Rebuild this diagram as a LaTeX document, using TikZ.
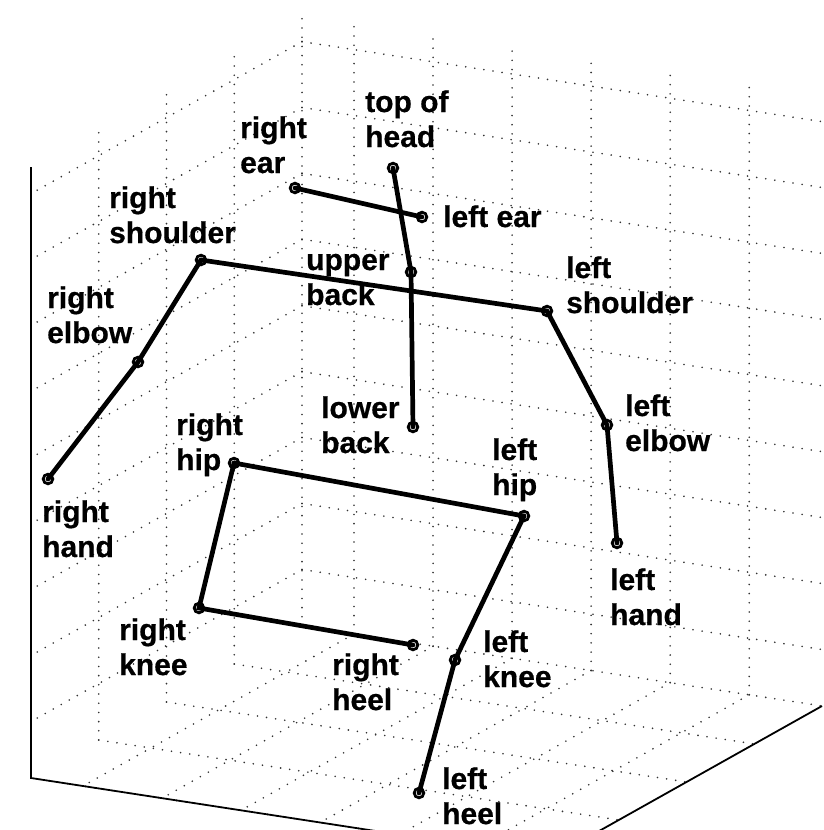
\documentclass[tikz,border=0pt]{standalone}
\usepackage{fontspec}
\setmainfont{Liberation Sans}[BoldFeatures={FakeBold=0.6}]
\newcommand\twol[2]{\vtop{\baselineskip=35pt\lineskiplimit=-100pt\hbox{#1}\hbox{#2}}}
\begin{document}
\begin{tikzpicture}[x=1pt,y=-1pt,
  gridline/.style={draw=black!80, line width=1.8pt, line cap=round, dash pattern=on 0pt off 9.2pt},
  axisline/.style={draw=black, line width=1.8pt},
  bone/.style={draw=black, line width=4.7pt, line cap=round},
  marker/.style={draw=black, line width=2.8pt},
  lbl/.style={anchor=base west, inner sep=0pt, font=\fontsize{30}{35}\selectfont\bfseries}]
\useasboundingbox (0,0) rectangle (823,830);
\fill[white] (0,0) rectangle (823,830);
% grid: v ticks (left wall verticals, floor lines along u)
\foreach \v in {0,0.25,0.5,0.75,1}{
  \draw[gridline] ({302-271*\v},{626+152*\v}) -- ({302-271*\v},{16+152*\v});
  \draw[gridline] ({302-271*\v},{626+152*\v}) -- ({822-271*\v},{706+152*\v});
}
% u ticks (right wall verticals, floor lines along v)
\foreach \u in {0.1,0.252,0.404,0.556,0.708,0.86}{
  \draw[gridline] ({302+520*\u},{626+80*\u}) -- ({302+520*\u},{16+80*\u});
  \draw[gridline] ({302+520*\u},{626+80*\u}) -- ({31+520*\u},{778+80*\u});
}
% z ticks (horizontal lines on both walls)
\foreach \z in {0.0926,0.2008,0.309,0.417,0.525,0.634,0.742,0.850,0.958}{
  \draw[gridline] (302,{626-610*\z}) -- (31,{778-610*\z});
  \draw[gridline] (302,{626-610*\z}) -- (822,{706-610*\z});
}
% axes
\coordinate (Ltop) at (31,167);
\coordinate (Lbot) at (31,778);
\coordinate (Fc) at (551,858);
\coordinate (Rc) at (822,706);
\draw[axisline] (Ltop) -- (Lbot) -- (Fc) -- (Rc);
% joints
\coordinate (tophead) at (393,168);
\coordinate (rear) at (295,188);
\coordinate (lear) at (422,217);
\coordinate (upback) at (411,272);
\coordinate (lowback) at (413,427);
\coordinate (rsho) at (201,260);
\coordinate (lsho) at (547,311);
\coordinate (relb) at (138,362);
\coordinate (lelb) at (607,425);
\coordinate (rhand) at (48,479);
\coordinate (lhand) at (617,543);
\coordinate (rhip) at (234,463);
\coordinate (lhip) at (524,516);
\coordinate (rknee) at (199,608);
\coordinate (lknee) at (455,660);
\coordinate (rheel) at (413,645);
\coordinate (lheel) at (419,793);
% bones
\draw[bone] (rear) -- (lear);
\draw[bone] (tophead) -- (upback) -- (lowback);
\draw[bone] (rsho) -- (lsho);
\draw[bone] (rsho) -- (relb) -- (rhand);
\draw[bone] (lsho) -- (lelb) -- (lhand);
\draw[bone] (rhip) -- (lhip);
\draw[bone] (rhip) -- (rknee) -- (rheel);
\draw[bone] (lhip) -- (lknee) -- (lheel);
% markers
\foreach \j in {tophead,rear,lear,upback,lowback,rsho,lsho,relb,lelb,rhand,lhand,rhip,lhip,rknee,lknee,rheel,lheel}{
  \draw[marker] (\j) circle (4.8pt);
}
% labels
\node[lbl] (Trear) at (240,138) {\twol{right}{ear}};
\node[lbl] (Ttophead) at (365,112) {\twol{top of}{head}};
\node[lbl] (Tlear) at (443,227) {left ear};
\node[lbl] (Trsho) at (109,208) {\twol{right}{shoulder}};
\node[lbl] (Tupback) at (306,270) {\twol{upper}{back}};
\node[lbl] (Tlsho) at (566,278) {\twol{left}{shoulder}};
\node[lbl] (Trelb) at (47,308) {\twol{right}{elbow}};
\node[lbl] (Tlowback) at (321,418) {\twol{lower}{back}};
\node[lbl] (Tlelb) at (625,416) {\twol{left}{elbow}};
\node[lbl] (Trhip) at (176,435) {\twol{right}{hip}};
\node[lbl] (Tlhip) at (492,460) {\twol{left}{hip}};
\node[lbl] (Trhand) at (42,522) {\twol{right}{hand}};
\node[lbl] (Tlhand) at (610,590) {\twol{left}{hand}};
\node[lbl] (Trknee) at (119,640) {\twol{right}{knee}};
\node[lbl] (Trheel) at (332,675) {\twol{right}{heel}};
\node[lbl] (Tlknee) at (483,652) {\twol{left}{knee}};
\node[lbl] (Tlheel) at (442,789) {\twol{left}{heel}};
\end{tikzpicture}
\end{document}
